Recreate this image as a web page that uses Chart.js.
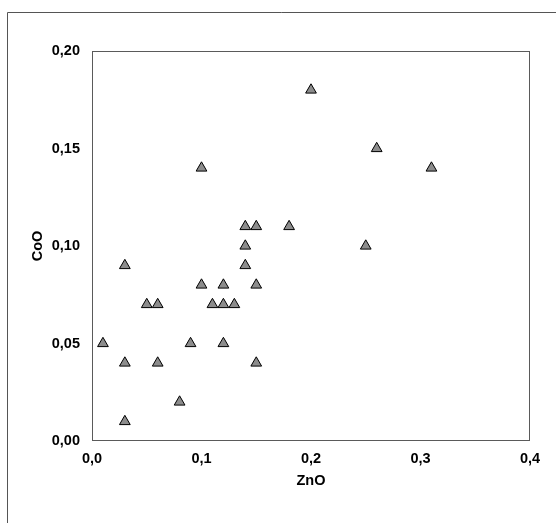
<!DOCTYPE html>
<html>
<head>
<meta charset="utf-8">
<script src="https://cdn.jsdelivr.net/npm/chart.js@4/dist/chart.umd.min.js"></script>
<style>
  html, body { margin: 0; padding: 0; background: #ffffff; }
  #wrap { width: 556px; height: 523px; position: relative; }
</style>
</head>
<body>
<div id="wrap"><canvas id="c" width="556" height="523"></canvas></div>
<script>
// ZnO vs CoO content of the samples
const znO = [0.01, 0.03, 0.03, 0.03, 0.05, 0.06, 0.06, 0.08, 0.09, 0.10, 0.10, 0.11, 0.12, 0.12,
             0.12, 0.13, 0.14, 0.14, 0.14, 0.15, 0.15, 0.15, 0.18, 0.20, 0.25, 0.26, 0.31];
const coO = [0.05, 0.09, 0.04, 0.01, 0.07, 0.07, 0.04, 0.02, 0.05, 0.14, 0.08, 0.07, 0.08, 0.07,
             0.05, 0.07, 0.11, 0.10, 0.09, 0.11, 0.08, 0.04, 0.11, 0.18, 0.10, 0.15, 0.14];

const xTickLabels = ['0,0', '0,1', '0,2', '0,3', '0,4'];
const yTickLabels = ['0,00', '0,05', '0,10', '0,15', '0,20'];
const xTitle = 'ZnO';
const yTitle = 'CoO';

const points = znO.map((x, i) => ({ x: x, y: coO[i] }));

const FONT = { family: "'Liberation Sans', Arial, sans-serif", size: 14.5, weight: 'bold' };

// outer frame and plot-area border
const frames = {
  id: 'frames',
  beforeDraw(chart) {
    const ctx = chart.ctx;
    ctx.save();
    ctx.strokeStyle = '#555555';
    ctx.lineWidth = 1;
    ctx.beginPath();
    ctx.moveTo(7.5, 523);
    ctx.lineTo(7.5, 12.5);
    ctx.lineTo(556, 12.5);
    ctx.stroke();
    const a = chart.chartArea;
    ctx.strokeStyle = '#5a5a5a';
    ctx.strokeRect(a.left + 0.5, a.top + 0.5, a.right - a.left - 1, a.bottom - a.top - 1);
    ctx.restore();
  }
};

new Chart(document.getElementById('c'), {
  type: 'scatter',
  data: {
    datasets: [{
      data: points,
      pointStyle: 'triangle',
      pointRadius: 6.2,
      pointHoverRadius: 6.2,
      backgroundColor: '#8c8c8c',
      borderColor: '#000000',
      borderWidth: 1
    }]
  },
  options: {
    responsive: false,
    animation: false,
    events: [],
    layout: { padding: { left: 0, top: 51, right: 26, bottom: 0 } },
    plugins: { legend: { display: false }, tooltip: { enabled: false } },
    scales: {
      x: {
        type: 'linear',
        min: 0, max: 0.4,
        afterFit(s) { s.height = 82; },
        grid: { display: false, drawTicks: false },
        border: { display: false },
        ticks: {
          stepSize: 0.1,
          padding: 9,
          color: '#000000',
          font: FONT,
          maxRotation: 0,
          callback: (v, i) => xTickLabels[i]
        },
        title: { display: true, text: xTitle, color: '#000000', font: FONT, padding: { top: 0, bottom: 33 } }
      },
      y: {
        type: 'linear',
        min: 0, max: 0.2,
        afterFit(s) { s.width = 92; },
        grid: { display: false, drawTicks: false },
        border: { display: false },
        ticks: {
          stepSize: 0.05,
          padding: 12,
          color: '#000000',
          font: FONT,
          callback: (v, i) => yTickLabels[i]
        },
        title: { display: true, text: yTitle, color: '#000000', font: FONT, padding: { top: 29, bottom: 0 } }
      }
    }
  },
  plugins: [frames]
});
</script>
</body>
</html>
